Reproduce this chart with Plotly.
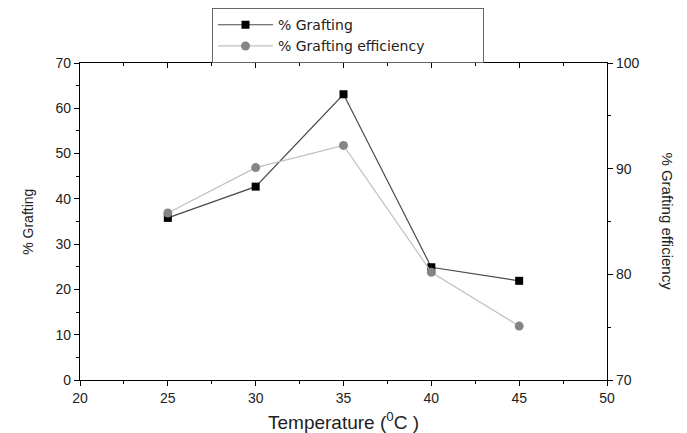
import plotly.graph_objects as go

temperature = [25, 30, 35, 40, 45]
grafting = [35.8, 42.7, 63.1, 24.9, 21.9]
grafting_eff = [85.8, 90.1, 92.2, 80.2, 75.1]

x_ticks = [20, 25, 30, 35, 40, 45, 50]
y_ticks = [0, 10, 20, 30, 40, 50, 60, 70]
y2_ticks = [70, 80, 90, 100]

FONT = "Liberation Sans, Arial, sans-serif"
LEG_FONT = "DejaVu Sans, Liberation Sans, sans-serif"
TXT = "#222"

fig = go.Figure()
fig.add_trace(go.Scatter(
    x=temperature, y=grafting, name="% Grafting", mode="lines+markers",
    line=dict(color="#4a4a4a", width=1.2),
    marker=dict(symbol="square", size=8, color="black", line=dict(color="black", width=0)),
))
fig.add_trace(go.Scatter(
    x=temperature, y=grafting_eff, name="% Grafting efficiency", mode="lines+markers",
    yaxis="y2",
    line=dict(color="#c0c0c0", width=1.2),
    marker=dict(symbol="circle", size=9, color="#858585", line=dict(width=0)),
))
fig.add_trace(go.Scatter(x=[20, 50], y=[0, 0], xaxis="x2", mode="markers",
                         marker=dict(opacity=0), showlegend=False, hoverinfo="skip"))

axis_common = dict(showline=True, linecolor="black", linewidth=1.3, showgrid=False,
                   zeroline=False, tickcolor="black", automargin=False,
                   tickfont=dict(family=FONT, size=14, color=TXT))

# page body has an 8px margin, so the figure is sized to fill the rest of the window
fig.update_layout(
    width=679, height=425,
    margin=dict(l=72, r=80, t=55, b=53, autoexpand=False),
    paper_bgcolor="white", plot_bgcolor="white",
    font=dict(family=FONT, color=TXT),
    showlegend=True,
    xaxis=dict(range=[20, 50], tickvals=x_ticks, ticks="outside", ticklen=5,
               minor=dict(dtick=2.5, tick0=20, ticks="outside", ticklen=3, tickcolor="black"),
               **axis_common),
    xaxis2=dict(range=[20, 50], overlaying="x", side="top", tickvals=x_ticks, ticks="inside",
                ticklen=5, showticklabels=False,
                minor=dict(dtick=2.5, tick0=20, ticks="inside", ticklen=3, tickcolor="black"),
                **axis_common),
    yaxis=dict(range=[0, 70], tickvals=y_ticks, ticks="outside", ticklen=5,
               minor=dict(dtick=5, tick0=0, ticks="outside", ticklen=3, tickcolor="black"),
               **axis_common),
    yaxis2=dict(range=[70, 100], tickvals=y2_ticks, ticks="outside", ticklen=5,
                overlaying="y", side="right",
                minor=dict(dtick=5, tick0=70, ticks="outside", ticklen=3, tickcolor="black"),
                **axis_common),
    legend=dict(x=0.2505, y=1.173, xanchor="left", yanchor="top",
                orientation="h",
                bordercolor="#666", borderwidth=1, bgcolor="white",
                font=dict(family=LEG_FONT, size=14, color=TXT),
                itemwidth=55, tracegroupgap=0,
                entrywidth=200, entrywidthmode="pixels"),
    annotations=[
        dict(text="Temperature (<sup>0</sup>C )", xref="paper", yref="paper",
             x=0.5, y=-0.1293, yanchor="middle", showarrow=False,
             font=dict(family=FONT, size=19, color=TXT)),
        dict(text="% Grafting", textangle=-90, xref="paper", yref="paper",
             x=-0.1, y=0.5, xanchor="center", showarrow=False,
             font=dict(family=FONT, size=14, color=TXT)),
        dict(text="% Grafting efficiency", textangle=90, xref="paper", yref="paper",
             x=1.114, y=0.5, xanchor="center", showarrow=False,
             font=dict(family=FONT, size=15, color=TXT)),
    ],
)

fig.write_html("out.html")
